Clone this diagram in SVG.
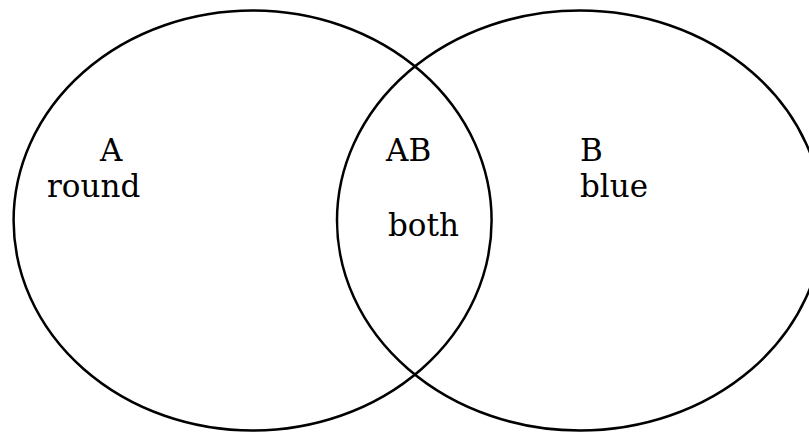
<svg xmlns="http://www.w3.org/2000/svg" width="809" height="434" viewBox="0 0 809 434">
<style>
.set{fill:none;stroke:#000;stroke-width:2.5}
text{font-family:"DejaVu Serif",serif;font-size:31px;fill:#000}
</style>
<rect width="809" height="434" fill="#fff"/>
<g id="setA">
<ellipse class="set" cx="252.6" cy="220.5" rx="239" ry="210"/>
<text x="100" y="161">A</text>
<text x="47" y="197">round</text>
</g>
<g id="setB">
<ellipse class="set" cx="580" cy="220.5" rx="243" ry="210"/>
<text x="580" y="161">B</text>
<text x="580" y="197">blue</text>
</g>
<g id="setAB">
<text x="386" y="161">AB</text>
<text x="388" y="236">both</text>
</g>
<g id="connectors"/>
</svg>
